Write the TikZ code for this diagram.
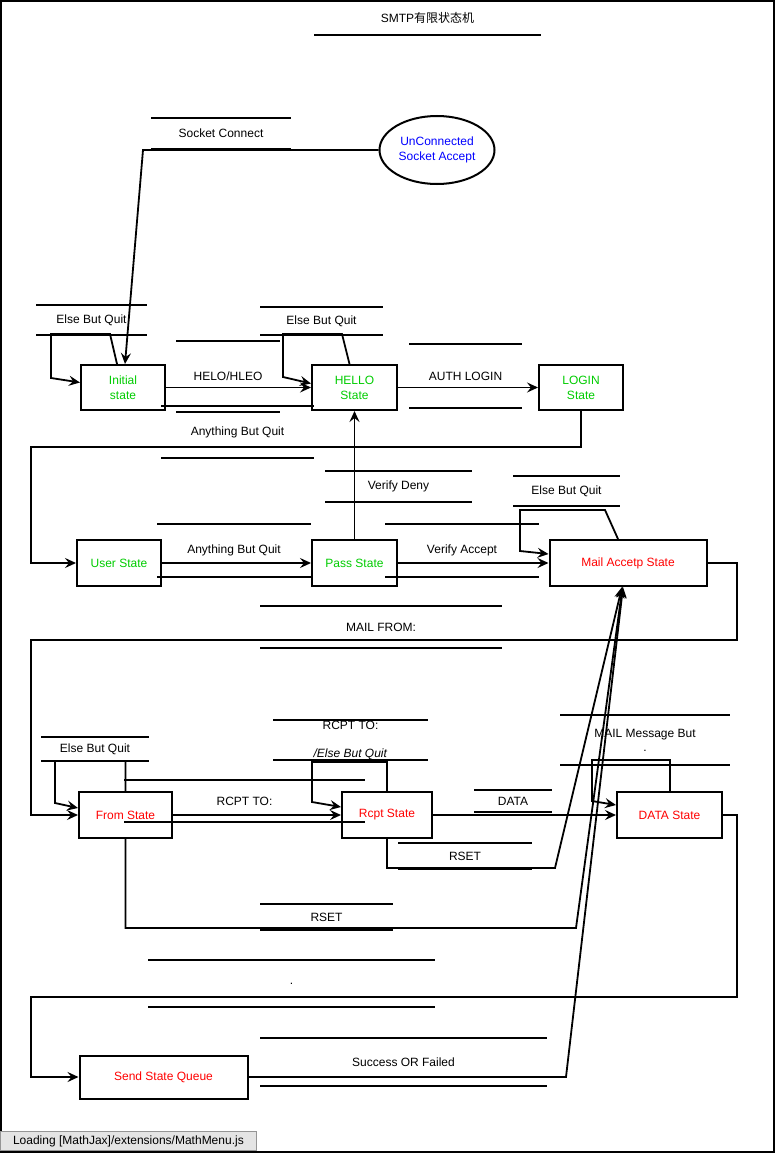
\documentclass[tikz,border=0pt]{standalone}
\usepackage{fontspec}
\setmainfont{Liberation Sans}
\newfontfamily\cjk{Noto Sans CJK SC}
\usetikzlibrary{arrows.meta,shapes.geometric}
\definecolor{stgreen}{HTML}{00CC00}
\definecolor{stred}{HTML}{FF0000}
\definecolor{stblue}{HTML}{0000FF}
\definecolor{mjgray}{HTML}{E4E4E4}
\definecolor{mjline}{HTML}{959595}

\begin{document}
\begin{tikzpicture}[x=1pt,y=-1pt,->,>={Stealth[length=11pt,width=10pt,inset=4pt]},line width=1.8pt,
  font=\fontsize{12}{15}\selectfont,
  state/.style={shape=rectangle,draw=black,line width=2pt,minimum height=45pt,inner sep=0pt,align=center},
  elabel/.style={inner sep=0pt,align=center,font=\fontsize{12}{14}\selectfont},
  bar/.style={-,line width=2.2pt}]
                \useasboundingbox(0,0)rectangle(775,1153);
                \draw[-,line width=2pt](1,1)rectangle(774,1152);
                \node[shape=ellipse,draw=black,line width=2pt,minimum width=115pt,minimum height=68pt,inner sep=0pt,align=center,text=stblue](un)at(437,150){UnConnected\\Socket Accept};
                \node[state,text=stgreen,minimum width=84pt](init)at(123,387.5){Initial\\state};
                \node[state,text=stgreen,minimum width=85pt](hello)at(354.5,387.5){HELLO\\State};
                \node[state,text=stgreen,minimum width=84pt](login)at(581,387.5){LOGIN\\State};
                \node[state,text=stgreen,minimum width=84pt,minimum height=46pt](user)at(119,563){User State};
                \node[state,text=stgreen,minimum width=85pt,minimum height=46pt](pass)at(354.5,563){Pass State};
                \node[state,text=stred,minimum width=157pt,minimum height=46pt](mail)at(628,563){Mail Accetp State};
                \node[state,text=stred,minimum width=93pt,minimum height=46pt](from)at(125.5,815){From State};
                \node[state,text=stred,minimum width=90pt,minimum height=46pt](rcpt)at(387,815){Rcpt State};
                \node[state,text=stred,minimum width=105pt,minimum height=46pt](data)at(669.5,815){DATA State};
                \node[state,text=stred,minimum width=168pt,minimum height=43pt](send)at(163.5,1077){Send State Queue};
                \node[elabel,minimum width=225pt,minimum height=32pt](ltitle)at(427.5,18){SMTP{\cjk 有限状态机}};
                \node[elabel,minimum width=138pt,minimum height=29pt](lsock)at(221,133.5){Socket Connect};
                \node[elabel,minimum width=109pt,minimum height=28pt](lelsei)at(91.5,320){Else But Quit};
                \node[elabel,minimum width=121pt,minimum height=26pt](lelseh)at(321.5,321){Else But Quit};
                \node[elabel,minimum width=102pt,minimum height=69pt](lhelo)at(228,376.5){HELO/HLEO};
                \node[elabel,minimum width=111pt,minimum height=62pt](lauth)at(465.5,376){AUTH LOGIN};
                \node[elabel,minimum width=151pt,minimum height=50pt](lanyl)at(237.5,432){Anything But Quit};
                \node[elabel,minimum width=145pt,minimum height=29pt](ldeny)at(398.5,486.5){Verify Deny};
                \node[elabel,minimum width=152pt,minimum height=51pt](lanyu)at(234,550.5){Anything But Quit};
                \node[elabel,minimum width=152pt,minimum height=51pt](lacc)at(462,550.5){Verify Accept};
                \node[elabel,minimum width=105pt,minimum height=28pt](lelsem)at(566.5,491){Else But Quit};
                \node[elabel,minimum width=240pt,minimum height=40pt](lmfrom)at(381,627){MAIL FROM:};
                \node[elabel,minimum width=106pt,minimum height=22pt](lelsef)at(95,749){Else But Quit};
                \node[elabel,minimum width=239pt,minimum height=40pt](lrcpt)at(244.5,801){RCPT TO:};
                \node[elabel,minimum width=153pt,minimum height=34pt](lrcptl)at(350.5,740){RCPT TO:\\[14pt]\textit{/Else But Quit}};
                \node[elabel,minimum width=76pt,minimum height=20pt](ldata)at(513,801){DATA};
                \node[elabel,minimum width=168pt,minimum height=48pt](lmsg)at(645,740){MAIL Message But\\.};
                \node[elabel,minimum width=132pt,minimum height=24pt](lrsetr)at(465,856){RSET};
                \node[elabel,minimum width=131pt,minimum height=24pt](lrsetf)at(326.5,917){RSET};
                \node[elabel,minimum width=285pt,minimum height=45pt](ldot)at(291.5,983.5){.};
                \node[elabel,minimum width=285pt,minimum height=46pt](lsucc)at(403.5,1062){Success OR Failed};
                \foreach \l in {ltitle,lsock,lelsei,lelseh,lhelo,lauth,lanyl,ldeny,lanyu,lacc,lelsem,lmfrom,lelsef,lrcpt,lrcptl,ldata,lmsg,lrsetr,lrsetf,ldot,lsucc}
                  \draw[bar](\l.north west)--(\l.north east)(\l.south west)--(\l.south east);
                \path(init)edge(hello)
                (hello)edge(login)
                (user)edge(pass)
                (pass)edge(hello)
                (pass)edge(mail)
                (from)edge(rcpt)
                (rcpt)edge(data);
                \draw(un.west)--(143,150)--([xshift=2]init.north);
                \draw([xshift=-6]init.north)--(110,334)--(51,334)--(51,378)--([yshift=5]init.west);
                \draw([xshift=-5]hello.north)--(342,334)--(283,334)--(283,377)--([yshift=4]hello.west);
                \draw(login.south)|-(31,447)|-(user.west);
                \draw([xshift=-10]mail.north)--(605,510)--(520,510)--(520,551)--([yshift=9]mail.west);
                \draw(mail.east)-|(737,640)-|(31,815)--(from.west);
                \draw(from.north)--(125.5,761)--(55,761)--(55,803)--([yshift=7]from.west);
                \draw(rcpt.north)--(387,762)--(312,762)--(312,802)--([yshift=8]rcpt.west);
                \draw([xshift=0.5]data.north)--(670,760)--(592,760)--(592,801)--([yshift=10]data.west);
                \draw(rcpt.south)--(387,868)--(555,868)--([xshift=-6]mail.south);
                \draw(from.south)--(125.5,928)--(576,928)--([xshift=-5.5]mail.south);
                \draw(data.east)-|(737,997)-|(31,1077)--(send.west);
                \draw(send.east)--(566,1077)--([xshift=-5]mail.south);
                \node[draw=mjline,fill=mjgray,line width=0.8pt,minimum width=256pt,minimum height=19pt,inner sep=0pt,anchor=south west](mj)at(0,1151){Loading [MathJax]/extensions/MathMenu.js};
            \end{tikzpicture}
\end{document}
